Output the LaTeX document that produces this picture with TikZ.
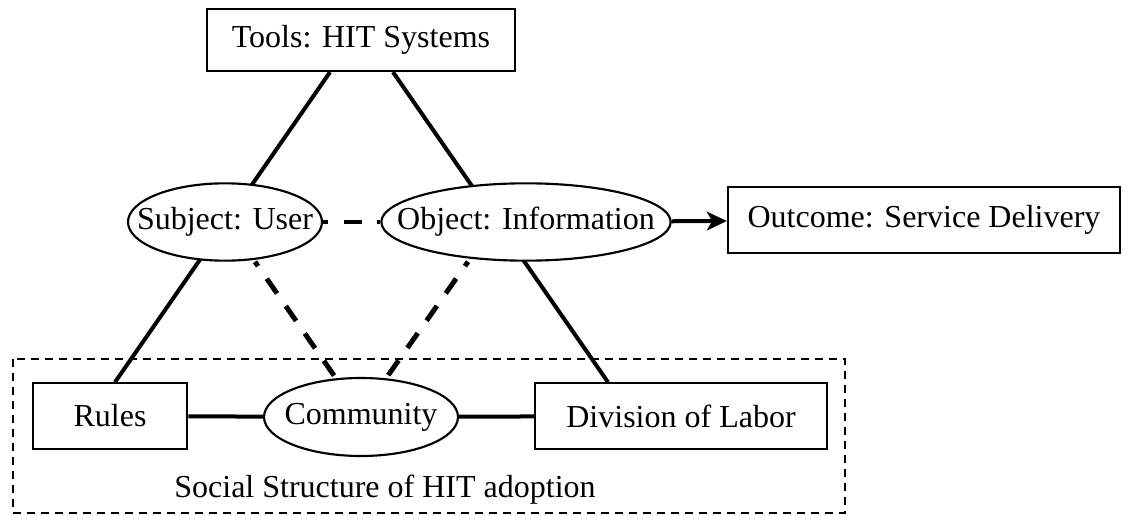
\documentclass[tikz,border=0pt]{standalone}
\usepackage{fontspec}
\setmainfont{Liberation Serif}
\usetikzlibrary{shapes.geometric,arrows.meta,calc,backgrounds}
\newcommand{\ovaltext}[1]{\makebox[0pt]{#1}}

\begin{document}
\begin{tikzpicture}[x=0.75pt,y=-0.75pt,
    font=\fontsize{24}{29}\selectfont,
    box/.style={draw,line width=1.7pt,fill=white,inner sep=0pt},
    oval/.style={ellipse,draw,line width=1.6pt,fill=white,inner sep=0pt},
    link/.style={line width=3pt},
    dashlink/.style={line width=3.7pt,dash pattern=on 13.5pt off 11.5pt,dash phase=9.5pt}]
  \useasboundingbox (0,0) rectangle (1128,516);
  \node[box,minimum width=231pt,minimum height=46.5pt] (tools) at (361,40) {Tools: HIT Systems};
  \node[oval,minimum width=145.5pt,minimum height=58pt] (subj) at (225,222) {\ovaltext{Subject: User}};
  \node[oval,minimum width=217pt,minimum height=58pt] (obj) at (526,222) {\ovaltext{Object: Information}};
  \node[box,minimum width=294pt,minimum height=49pt] (out) at (924,220) {Outcome: Service Delivery};
  \node[box,minimum width=116pt,minimum height=49pt] (rules) at (110,416) {Rules};
  \node[oval,minimum width=145.5pt,minimum height=58.5pt] (comm) at (361,417) {\ovaltext{Community}};
  \node[box,minimum width=219pt,minimum height=49pt] (labor) at (681,416) {Division of Labor};
  \node (social) at (385,490) {Social Structure of HIT adoption};
  % frame round the social structure
  \draw[line width=2.2pt,dash pattern=on 6pt off 4.5pt] (13,359) rectangle (845,513);
  \begin{scope}[on background layer]
    \coordinate (tl) at ($(tools.south)+(-31,0)$);
    \coordinate (tr) at ($(tools.south)+(32,0)$);
    \draw[link] (tl) -- ($(rules.north)+(5,0)$);
    \draw[link] (tr) -- ($(labor.north)+(-73,0)$);
  \end{scope}
  \draw[dashlink] (subj) -- (obj);
  \draw[dashlink] ($(subj.south)+(30,0)$) -- ($(comm.north)+(-26,0)$);
  \draw[dashlink] ($(obj.south)+(-58,0)$) -- ($(comm.north)+(26,0)$);
  \draw[link] (rules) -- (comm);
  \draw[link] (comm) -- (labor);
  \draw[link,-{Stealth[length=15pt,width=14pt,inset=4pt]}] (obj) -- (out);
\end{tikzpicture}
\end{document}
